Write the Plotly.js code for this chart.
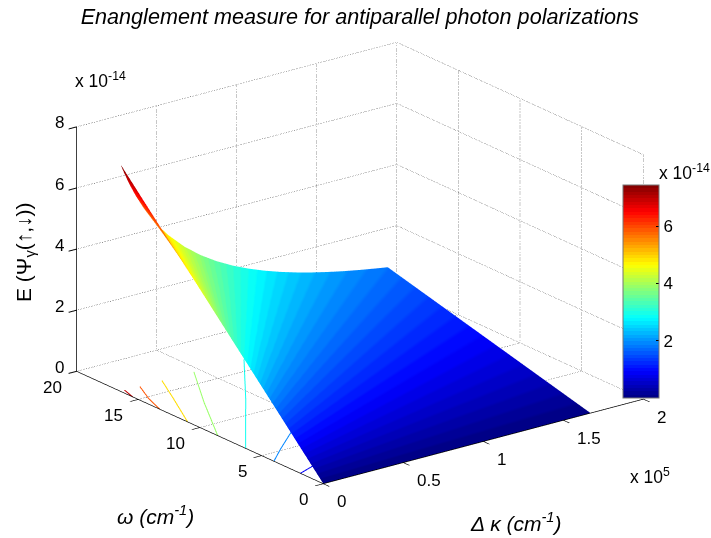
<!DOCTYPE html>
<html><head><meta charset="utf-8">
<script src="https://cdn.plot.ly/plotly-3.0.1.min.js"></script>
<style>html,body{margin:0;padding:0;background:#fff}#c{width:711px;height:538px}</style>
</head><body><div id="c"></div>
<script>
// kappa in units of 1e5 cm^-1, omega in cm^-1, E in units of 1e-14
const kappa = [0,.01,.02,.03,.05,.075,.1,.15,.2,.25,.3,.4,.5,.6,.7,.8,.9,1,1.1,1.2,1.3,1.4,1.5,1.6,1.67];
const omega = [0,4,8,12,16.45];
const energy = [
 [0,1.809,3.618,5.427,7.440],
 [0,1.774,3.549,5.323,7.298],
 [0,1.741,3.482,5.223,7.161],
 [0,1.709,3.418,5.127,7.029],
 [0,1.648,3.297,4.945,6.779],
 [0,1.579,3.157,4.736,6.492],
 [0,1.514,3.028,4.541,6.226],
 [0,1.400,2.799,4.199,5.756],
 [0,1.301,2.603,3.904,5.353],
 [0,1.216,2.432,3.648,5.002],
 [0,1.141,2.283,3.424,4.694],
 [0,1.016,2.033,3.049,4.180],
 [0,.916,1.832,2.748,3.767],
 [0,.834,1.667,2.501,3.429],
 [0,.765,1.530,2.295,3.146],
 [0,.707,1.413,2.120,2.906],
 [0,.657,1.313,1.970,2.701],
 [0,.613,1.226,1.840,2.522],
 [0,.575,1.150,1.726,2.366],
 [0,.542,1.083,1.625,2.228],
 [0,.512,1.023,1.535,2.105],
 [0,.485,.970,1.455,1.995],
 [0,.461,.922,1.383,1.896],
 [0,.439,.878,1.317,1.806],
 [0,.425,.850,1.275,1.748]
];
const kappaTicks = [0,0.5,1,1.5,2];
const omegaTicks = [0,5,10,15,20];
const energyTicks = [0,2,4,6,8];
const barTicks = [2,4,6];
// floor contours: [kappa list, omega list, colour level]
const contourLevels = [0.9,1.9,2.9,3.9,4.9,5.9,6.95];
const contourKappa = [
 [0,0.096,0.5,1,1.67],
 [0,0.13,0.308,0.8,1.5],
 [0,0.427,0.766],
 [0,0.234,0.459],
 [0,0.153,0.257],
 [0,0.049,0.118],
 [0,0.026]
];
const contourOmega = [
 [1.85,2.24,3.9,5.9,8.4],
 [4.0,5.16,6.66,10.6,16.4],
 [6.30,11.83,16.37],
 [8.56,12.70,16.45],
 [11.0,14.19,16.42],
 [13.25,14.80,16.40],
 [15.45,16.45]
];

function jet(t){
  const f=(a)=>Math.max(0,Math.min(1,1.5-Math.abs(4*t-a)));
  return 'rgb('+Math.round(255*f(3))+','+Math.round(255*f(2))+','+Math.round(255*f(1))+')';
}
const N=64, jetScale=[];
for(let i=0;i<N;i++){const c=jet((i+0.5)/N);jetScale.push([i/N,c]);jetScale.push([(i+1)/N,c]);}
const zMin=0, zMax=7.44;

const traces=[];
traces.push({type:'surface',x:kappa,y:omega,z:omega.map((_,j)=>kappa.map((_,i)=>energy[i][j])),
  colorscale:jetScale,cmin:zMin,cmax:zMax,hoverinfo:'skip',
  lighting:{ambient:1,diffuse:0,specular:0,roughness:1,fresnel:0},
  contours:{x:{highlight:false},y:{highlight:false},z:{highlight:false}},
  colorbar:{x:623/711,xanchor:'left',xref:'paper',y:1-398/538,yanchor:'bottom',len:213,lenmode:'pixels',thickness:36,thicknessmode:'pixels',
    tickmode:'array',tickvals:barTicks,ticktext:barTicks.map(String),ticks:'inside',ticklen:3,tickcolor:'#000',
    tickfont:{family:'Liberation Sans',size:17,color:'#000'},outlinecolor:'#777',outlinewidth:1,borderwidth:0,xpad:0,ypad:0}
});
contourKappa.forEach((k,i)=>{
  traces.push({type:'scatter3d',mode:'lines',x:k,y:contourOmega[i],z:k.map(()=>0),hoverinfo:'skip',showlegend:false,
    line:{color:jet(contourLevels[i]/zMax),width:2}});
});
function seg(a,b){traces.push({type:'scatter3d',mode:'lines',x:[a[0],b[0]],y:[a[1],b[1]],z:[a[2],b[2]],hoverinfo:'skip',showlegend:false,
  line:{color:'#222',width:1,dash:'dot'}});}
const kM=2,wM=20,zM=8;
kappaTicks.forEach(k=>{ if(k>0) seg([k,0,0],[k,wM,0]); seg([k,wM,0],[k,wM,zM]); });
omegaTicks.forEach(w=>{ if(w>0) seg([0,w,0],[kM,w,0]); seg([kM,w,0],[kM,w,zM]); });
energyTicks.forEach(z=>{ seg([0,wM,z],[kM,wM,z]); seg([kM,0,z],[kM,wM,z]); });

const ax=(vals)=>({range:[vals[0],vals[vals.length-1]],autorange:false,tickmode:'array',tickvals:vals,ticktext:vals.map(String),
  showticklabels:false,showgrid:false,zeroline:false,showbackground:false,showspikes:false,showline:true,linecolor:'#000',linewidth:1.5,
  ticks:'outside',ticklen:10,tickcolor:'#000',tickwidth:2,title:{text:''}});
const F='Liberation Sans';
const tickFont={family:F,size:17,color:'#000'};
const tickNote=(x,y,z,v,extra)=>Object.assign({x:x,y:y,z:z,text:String(v),showarrow:false,font:tickFont},extra);
const sceneNotes=[];
kappaTicks.forEach(k=>sceneNotes.push(tickNote(k,0,0,k,{xanchor:'left',yanchor:'middle',xshift:12,yshift:-18})));
omegaTicks.forEach(w=>sceneNotes.push(tickNote(0,w,0,w,{xanchor:'right',yanchor:'middle',xshift:-13,yshift:-16})));
energyTicks.forEach(z=>sceneNotes.push(tickNote(0,20,z,z,{xanchor:'center',yanchor:'middle',xshift:-17,yshift:4})));
const note=(px,py,text,size,extra)=>Object.assign({xref:'paper',yref:'paper',x:px/711,y:1-py/538,text:text,showarrow:false,
  font:{family:F,size:size,color:'#000'},xanchor:'center',yanchor:'middle'},extra||{});
const layout={
  width:711,height:538,margin:{l:0,r:0,t:0,b:0},paper_bgcolor:'#fff',showlegend:false,
  title:{text:'Enanglement measure for antiparallel photon polarizations',font:{family:F,size:21.6,style:'italic',color:'#000'},x:0.506,xanchor:'center',y:1-16/538,yanchor:'middle'},
  scene:{domain:{x:[0.0127,1],y:[0.022,1]},aspectmode:'manual',aspectratio:{x:1.53,y:1.548,z:0.991},
    camera:{projection:{type:'orthographic'},up:{x:0,y:0,z:1},center:{x:0,y:0,z:0},eye:{x:-1.136,y:-1.492,z:0.694}},
    xaxis:ax(kappaTicks),yaxis:ax(omegaTicks),zaxis:ax(energyTicks),annotations:sceneNotes},
  annotations:[
    note(73,80,'x 10<sup>-14</sup>',17.5,{xanchor:'left'}),
    note(657,172,'x 10<sup>-14</sup>',17.5,{xanchor:'left'}),
    note(628,476,'x 10<sup>5</sup>',17.5,{xanchor:'left'}),
    note(25,252,'E (Ψ<sub>γ</sub>(↑,↓))',21,{textangle:-90}),
    note(155,515,'<i>ω (cm<sup>-1</sup>)</i>',21),
    note(516,522,'<i>Δ κ (cm<sup>-1</sup>)</i>',21)
  ]
};
Plotly.newPlot('c',traces,layout,{displayModeBar:false,responsive:false});
</script></body></html>
